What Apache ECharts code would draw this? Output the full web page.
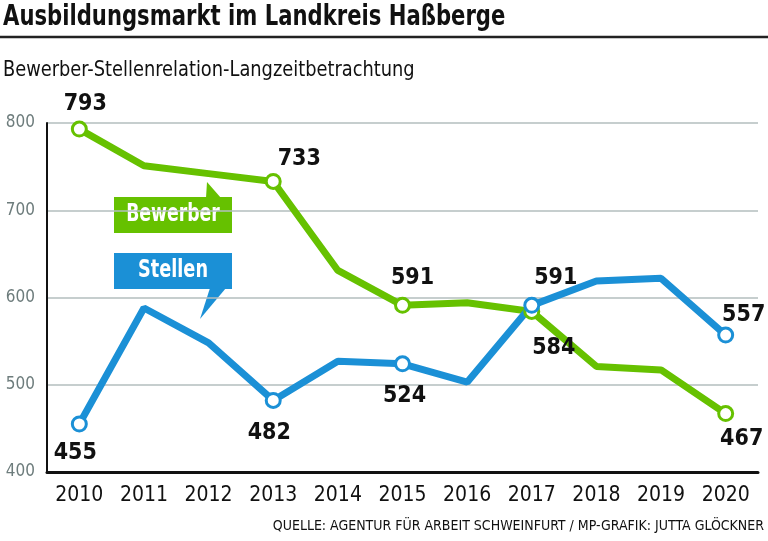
<!DOCTYPE html>
<html>
<head>
<meta charset="utf-8">
<script src="https://cdn.jsdelivr.net/npm/echarts@6/dist/echarts.min.js"></script>
<style>
  html, body { margin: 0; padding: 0; background: #fff; }
  #chart { width: 768px; height: 541px; }
</style>
</head>
<body>
<div id="chart"></div>
<script>
const years = ["2010", "2011", "2012", "2013", "2014", "2015", "2016", "2017", "2018", "2019", "2020"];
const bewerber = [793, 751, 742, 733, 631, 591, 594, 584, 521, 517, 467];
const stellen = [455, 588, 548, 482, 527, 524, 503, 591, 619, 622, 557];
const markedYears = ["2010", "2013", "2015", "2017", "2020"];

const font = "'DejaVu Sans Condensed', 'Liberation Sans Narrow', 'Noto Sans', sans-serif";
const green = "#66c100";
const blue = "#1b90d6";

// where each value label sits relative to its point
const bewerberLabelOffset = {
  "2010": [6, 0, "top"],
  "2013": [26, 3, "top"],
  "2015": [10, -2, "top"],
  "2017": [22, 12, "bottom"],
  "2020": [16, 0, "bottom"],
};
const stellenLabelOffset = {
  "2010": [-4, 4, "bottom"],
  "2013": [-4, 8, "bottom"],
  "2015": [2, 7, "bottom"],
  "2017": [24, -2, "top"],
  "2020": [18, 5, "top"],
};

function buildData(values, offsets) {
  return values.map((v, i) => {
    const year = years[i];
    if (!markedYears.includes(year)) {
      return { value: v, symbol: "none", label: { show: false } };
    }
    const o = offsets[year];
    return {
      value: v,
      symbol: "circle",
      label: { show: true, position: o[2], offset: [o[0], o[1]] },
    };
  });
}

function lineSeries(name, values, color, offsets) {
  return {
    name,
    type: "line",
    data: buildData(values, offsets),
    symbolSize: 14,
    showAllSymbol: true,
    lineStyle: { width: 7, color },
    itemStyle: { color: "#fff", borderColor: color, borderWidth: 3 },
    label: {
      color: "#111",
      fontFamily: font,
      fontWeight: "bold",
      fontSize: 23,
    },
    emphasis: { disabled: true },
    animation: false,
  };
}

function callout(text, color, top, pointer, sx) {
  return {
    type: "group",
    children: [
      { type: "rect", shape: { x: 114, y: top, width: 118, height: 36 }, style: { fill: color } },
      { type: "polygon", shape: { points: pointer }, style: { fill: color } },
      {
        type: "text",
        x: 173, y: top + 18, scaleX: sx,
        style: {
          text, fill: "#fff", font: "bold 24px " + font,
          align: "center", verticalAlign: "middle",
        },
      },
    ],
  };
}

const chart = echarts.init(document.getElementById("chart"));
chart.setOption({
  animation: false,
  grid: { left: 47, right: 10, top: 123, bottom: 69 },
  xAxis: {
    type: "category",
    data: years,
    boundaryGap: true,
    axisLine: { lineStyle: { color: "#111", width: 3 } },
    axisTick: { inside: true, length: 9, lineStyle: { color: "#111", width: 2 } },
    axisLabel: { interval: 0, color: "#111", fontFamily: font, fontSize: 21, margin: 13 },
  },
  yAxis: {
    type: "value",
    min: 400,
    max: 800,
    interval: 100,
    axisLine: { show: true, lineStyle: { color: "#111", width: 2 } },
    axisTick: { show: false },
    axisLabel: { color: "#6d7c7c", fontFamily: font, fontSize: 17, margin: 12 },
    splitLine: { lineStyle: { color: "#b3bebe", width: 1.5 } },
  },
  series: [
    lineSeries("Bewerber", bewerber, green, bewerberLabelOffset),
    lineSeries("Stellen", stellen, blue, stellenLabelOffset),
  ],
  graphic: [
    {
      type: "text", x: 3, y: 18, scaleX: 0.84,
      style: {
        text: "Ausbildungsmarkt im Landkreis Haßberge", fill: "#111",
        font: "bold 28px " + font, verticalAlign: "middle",
      },
    },
    {
      type: "line", shape: { x1: 0, y1: 37, x2: 768, y2: 37 },
      style: { stroke: "#222", lineWidth: 2.5 },
    },
    {
      type: "text", x: 3, y: 70, scaleX: 0.9,
      style: {
        text: "Bewerber-Stellenrelation-Langzeitbetrachtung", fill: "#111",
        font: "22px " + font, verticalAlign: "middle",
      },
    },
    {
      type: "text", right: 4, top: 519,
      style: { text: "QUELLE: AGENTUR FÜR ARBEIT SCHWEINFURT / MP-GRAFIK: JUTTA GLÖCKNER", fill: "#111", font: "14px " + font },
    },
    callout("Bewerber", green, 197, [[206, 198], [221, 198], [207, 182]], 0.8),
    callout("Stellen", blue, 253, [[210, 288], [226, 288], [200, 319]], 0.82),
  ],
});
</script>
</body>
</html>
